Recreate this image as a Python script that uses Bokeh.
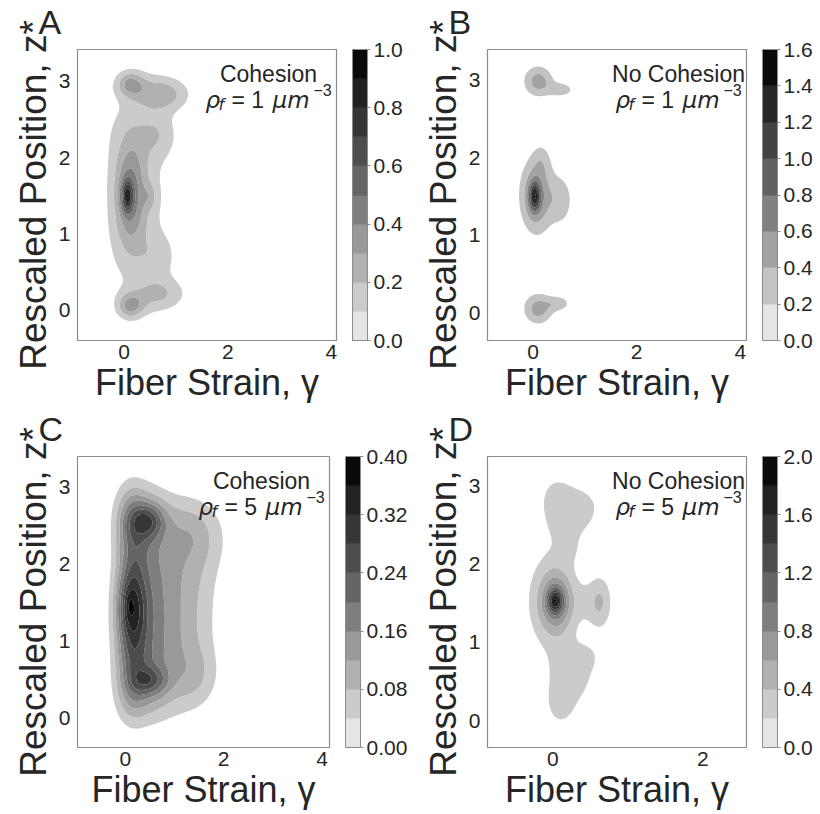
import numpy as np
from bokeh.plotting import figure
from bokeh.models import Label, Title, FixedTicker, ColorBar, LinearColorMapper, PrintfTickFormatter
from bokeh.layouts import column, row
from bokeh.embed import file_html
from bokeh.resources import INLINE

# ---------------- data ----------------
# Each density field is described by Gaussian components: centre (x0, y0), widths (sx, sy), amplitude
A_x0 = [0.06, 0.12, 0.50, 0.25, 0.25, 0.25, 0.25, 0.25, 0.65, 0.65,
        0.12, 0.10, 0.75, 0.40, 0.12, 0.13, 0.70, 0.40]
A_y0 = [1.50, 1.52, 1.49, 0.60, 1.10, 1.60, 2.10, 2.50, 2.30, 0.70,
        2.97, 2.97, 2.83, 2.95, 0.05, 0.06, 0.22, 0.10]
A_sx = [0.08, 0.21, 0.10, 0.50, 0.50, 0.50, 0.50, 0.50, 0.25, 0.25,
        0.19, 0.06, 0.35, 0.45, 0.18, 0.10, 0.35, 0.45]
A_sy = [0.14, 0.46, 0.12, 0.30, 0.30, 0.30, 0.30, 0.30, 0.20, 0.20,
        0.12, 0.05, 0.15, 0.18, 0.12, 0.06, 0.15, 0.18]
A_amp = [0.46, 0.34, 0.10, 0.085, 0.085, 0.085, 0.085, 0.085, 0.10, 0.09,
         0.25, 0.04, 0.22, 0.06, 0.27, 0.03, 0.16, 0.06]

B_x0 = [0.03, 0.06, 0.10, 0.55, 0.17, 0.10, 0.55, 0.10, 0.50]
B_y0 = [1.50, 1.52, 1.50, 1.45, 1.97, 2.99, 2.88, 0.05, 0.12]
B_sx = [0.08, 0.20, 0.30, 0.16, 0.12, 0.20, 0.18, 0.20, 0.16]
B_sy = [0.13, 0.32, 0.38, 0.22, 0.15, 0.14, 0.07, 0.14, 0.07]
B_amp = [0.80, 0.45, 0.18, 0.28, 0.16, 0.50, 0.30, 0.50, 0.30]

C_x0 = [0.12, 0.12, 0.12, 0.12, 0.12, 0.12,
        0.50, 0.50, 0.50, 0.50, 0.50, 0.50,
        1.00, 1.05, 1.05, 1.10, 1.35, 1.10,
        0.10, 0.47, 0.50, 0.08, 1.45]
C_y0 = [0.35, 0.85, 1.35, 1.85, 2.35, 2.65,
        0.35, 0.85, 1.35, 1.85, 2.35, 2.65,
        0.35, 0.85, 1.35, 1.85, 2.35, 2.65,
        1.50, 2.57, 0.49, 1.47, 0.55]
C_sx = [0.234, 0.234, 0.234, 0.234, 0.234, 0.234,
        0.30, 0.30, 0.30, 0.30, 0.30, 0.30,
        0.50, 0.50, 0.50, 0.50, 0.45, 0.45,
        0.20, 0.22, 0.25, 0.06, 0.30]
C_sy = [0.30, 0.30, 0.30, 0.30, 0.30, 0.30,
        0.30, 0.30, 0.30, 0.30, 0.30, 0.30,
        0.30, 0.30, 0.30, 0.30, 0.30, 0.25,
        0.35, 0.15, 0.13, 0.12, 0.25]
C_amp = [0.10, 0.12, 0.14, 0.09, 0.08, 0.10,
         0.060, 0.067, 0.067, 0.067, 0.067, 0.055,
         0.050, 0.073, 0.073, 0.073, 0.090, 0.030,
         0.10, 0.12, 0.11, 0.03, 0.04]

D_x0 = [0.03, 0.06, 0.00, 0.42, 0.63, 0.20, 0.45, 0.02, 0.23, 0.25, 0.10, 0.47]
D_y0 = [1.53, 1.52, 1.52, 1.52, 1.51, 2.65, 2.72, 2.85, 2.20, 0.60, 0.20, 0.82]
D_sx = [0.07, 0.13, 0.22, 0.10, 0.11, 0.24, 0.12, 0.12, 0.08, 0.22, 0.14, 0.12]
D_sy = [0.10, 0.22, 0.40, 0.20, 0.24, 0.30, 0.14, 0.18, 0.15, 0.27, 0.20, 0.12]
D_amp = [0.80, 0.50, 0.55, 0.12, 0.42, 0.34, 0.12, 0.14, 0.12, 0.34, 0.26, 0.13]

panel_letters = ["A", "B", "C", "D"]
conditions = ["Cohesion", "No Cohesion", "Cohesion", "No Cohesion"]
fiber_density = ["1", "1", "5", "5"]
cbar_max = [1.0, 1.6, 0.40, 2.0]
cbar_step = [0.1, 0.2, 0.04, 0.2]
cbar_ticks = [[0.0, 0.2, 0.4, 0.6, 0.8, 1.0],
              [0.0, 0.2, 0.4, 0.6, 0.8, 1.0, 1.2, 1.4, 1.6],
              [0.00, 0.08, 0.16, 0.24, 0.32, 0.40],
              [0.0, 0.4, 0.8, 1.2, 1.6, 2.0]]
cbar_fmt = ["%.1f", "%.1f", "%.2f", "%.1f"]
x_ranges = [(-0.90, 4.10), (-0.88, 4.12), (-0.97, 4.15), (-0.87, 2.58)]
y_ranges = [(-0.40, 3.42), (-0.36, 3.40), (-0.38, 3.40), (-0.34, 3.37)]
x_ticks = [[0, 2, 4], [0, 2, 4], [0, 2, 4], [0, 2]]
y_ticks = [0, 1, 2, 3]

# grey levels of the colour-bar bands (light -> dark)
band_greys = [229, 203, 177, 153, 126, 101, 77, 54, 34, 10]

components = [
    (A_x0, A_y0, A_sx, A_sy, A_amp),
    (B_x0, B_y0, B_sx, B_sy, B_amp),
    (C_x0, C_y0, C_sx, C_sy, C_amp),
    (D_x0, D_y0, D_sx, D_sy, D_amp),
]

TXT = "#262626"
FRAME = "#8c8c8c"


def palette(n):
    t = np.linspace(0, 1, len(band_greys))
    g = np.interp(np.linspace(0, 1, n), t, band_greys)
    return ["#%02x%02x%02x" % (int(v), int(v), int(v)) for v in g]


def density(xs, ys, comp):
    X, Y = np.meshgrid(xs, ys)
    Z = np.zeros_like(X)
    for x0, y0, sx, sy, a in zip(*comp):
        Z += a * np.exp(-0.5 * ((X - x0) / sx) ** 2 - 0.5 * ((Y - y0) / sy) ** 2)
    return Z


def make_panel(i):
    x0r, x1r = x_ranges[i]
    y0r, y1r = y_ranges[i]
    p = figure(width=410, height=407, x_range=(x0r, x1r), y_range=(y0r, y1r),
               output_backend="svg", toolbar_location=None, title=None,
               min_border_left=77, min_border_right=74, min_border_top=47, min_border_bottom=67)
    p.grid.visible = False
    p.outline_line_color = FRAME
    p.outline_line_width = 1.2
    p.background_fill_color = "white"
    p.border_fill_color = "white"

    # panel letter (a small blank title keeps it off the frame)
    p.add_layout(Title(text=" ", text_font_size="7px", standoff=0), "above")
    p.add_layout(Title(text=panel_letters[i], text_font="Liberation Sans", text_font_size="34px",
                       text_font_style="normal", text_color=TXT, align="left",
                       offset=-39, standoff=0), "above")

    xs = np.linspace(x0r, x1r, 320)
    ys = np.linspace(y0r, y1r, 320)
    Z = density(xs, ys, components[i])
    nb = int(round(cbar_max[i] / cbar_step[i]))
    levels = list(np.linspace(0, cbar_max[i], nb + 1))
    pal = palette(nb)
    p.contour(xs, ys, Z, levels=levels[1:], fill_color=pal[1:], line_color=None)

    for ax in (p.xaxis[0], p.yaxis[0]):
        ax.axis_line_color = None
        ax.major_tick_line_color = None
        ax.minor_tick_line_color = None
        ax.major_tick_out = 0
        ax.major_tick_in = 0
        ax.major_label_text_font = "Liberation Sans"
        ax.major_label_text_font_size = "21px"
        ax.major_label_text_color = TXT
        ax.axis_label_text_font = "Liberation Sans"
        ax.axis_label_text_font_style = "normal"
        ax.axis_label_text_color = TXT
    p.xaxis.ticker = FixedTicker(ticks=x_ticks[i])
    p.yaxis.ticker = FixedTicker(ticks=y_ticks)
    p.xaxis.axis_label = "Fiber Strain, γ"
    p.yaxis.axis_label = "Rescaled Position, z*"
    p.xaxis.axis_label_text_font_size = "36px"
    p.yaxis.axis_label_text_font_size = "37px"
    p.xaxis.major_label_standoff = 4
    p.yaxis.major_label_standoff = 7
    p.xaxis.axis_label_standoff = 0
    p.yaxis.axis_label_standoff = 2

    # blank spacer between frame and colour bar
    p.add_layout(Title(text=" ", text_font_size="12px", standoff=0), "right")

    mapper = LinearColorMapper(palette=pal, low=0, high=cbar_max[i])
    cb = ColorBar(color_mapper=mapper, width=15, padding=0, margin=0,
                  ticker=FixedTicker(ticks=cbar_ticks[i]),
                  formatter=PrintfTickFormatter(format=cbar_fmt[i]),
                  major_label_text_font="Liberation Sans",
                  major_label_text_font_size="21px",
                  major_label_text_color=TXT,
                  label_standoff=3, major_tick_out=3, major_tick_in=0,
                  major_tick_line_color=FRAME, minor_tick_line_color=None,
                  bar_line_color=FRAME, border_line_color=None,
                  background_fill_alpha=0)
    p.add_layout(cb, "right")

    # annotations anchored to the frame's top-right corner
    def lab(text, dx, dy, size, font="Liberation Sans", style="normal", align="left"):
        p.add_layout(Label(x=x1r, y=y1r, x_offset=dx, y_offset=dy, text=text,
                           text_font=font, text_font_style=style, text_font_size=size,
                           text_color=TXT, text_align=align, text_baseline="alphabetic"))

    lab(conditions[i], -68, -24, "23px", align="center")
    lab("ρ", -131, -50, "23px", font="DejaVu Sans", style="italic")
    lab("f", -118, -55, "16px", font="DejaVu Sans", style="italic")
    lab("= " + fiber_density[i], -105, -50, "23px")
    lab("μm", -64, -50, "23px", font="DejaVu Sans", style="italic")
    lab("−3", -23, -40, "16px")
    return p


panels = [make_panel(i) for i in range(4)]
layout = column(row(panels[0], panels[1]), row(panels[2], panels[3]))

open("out.html", "w").write(file_html(layout, INLINE))
